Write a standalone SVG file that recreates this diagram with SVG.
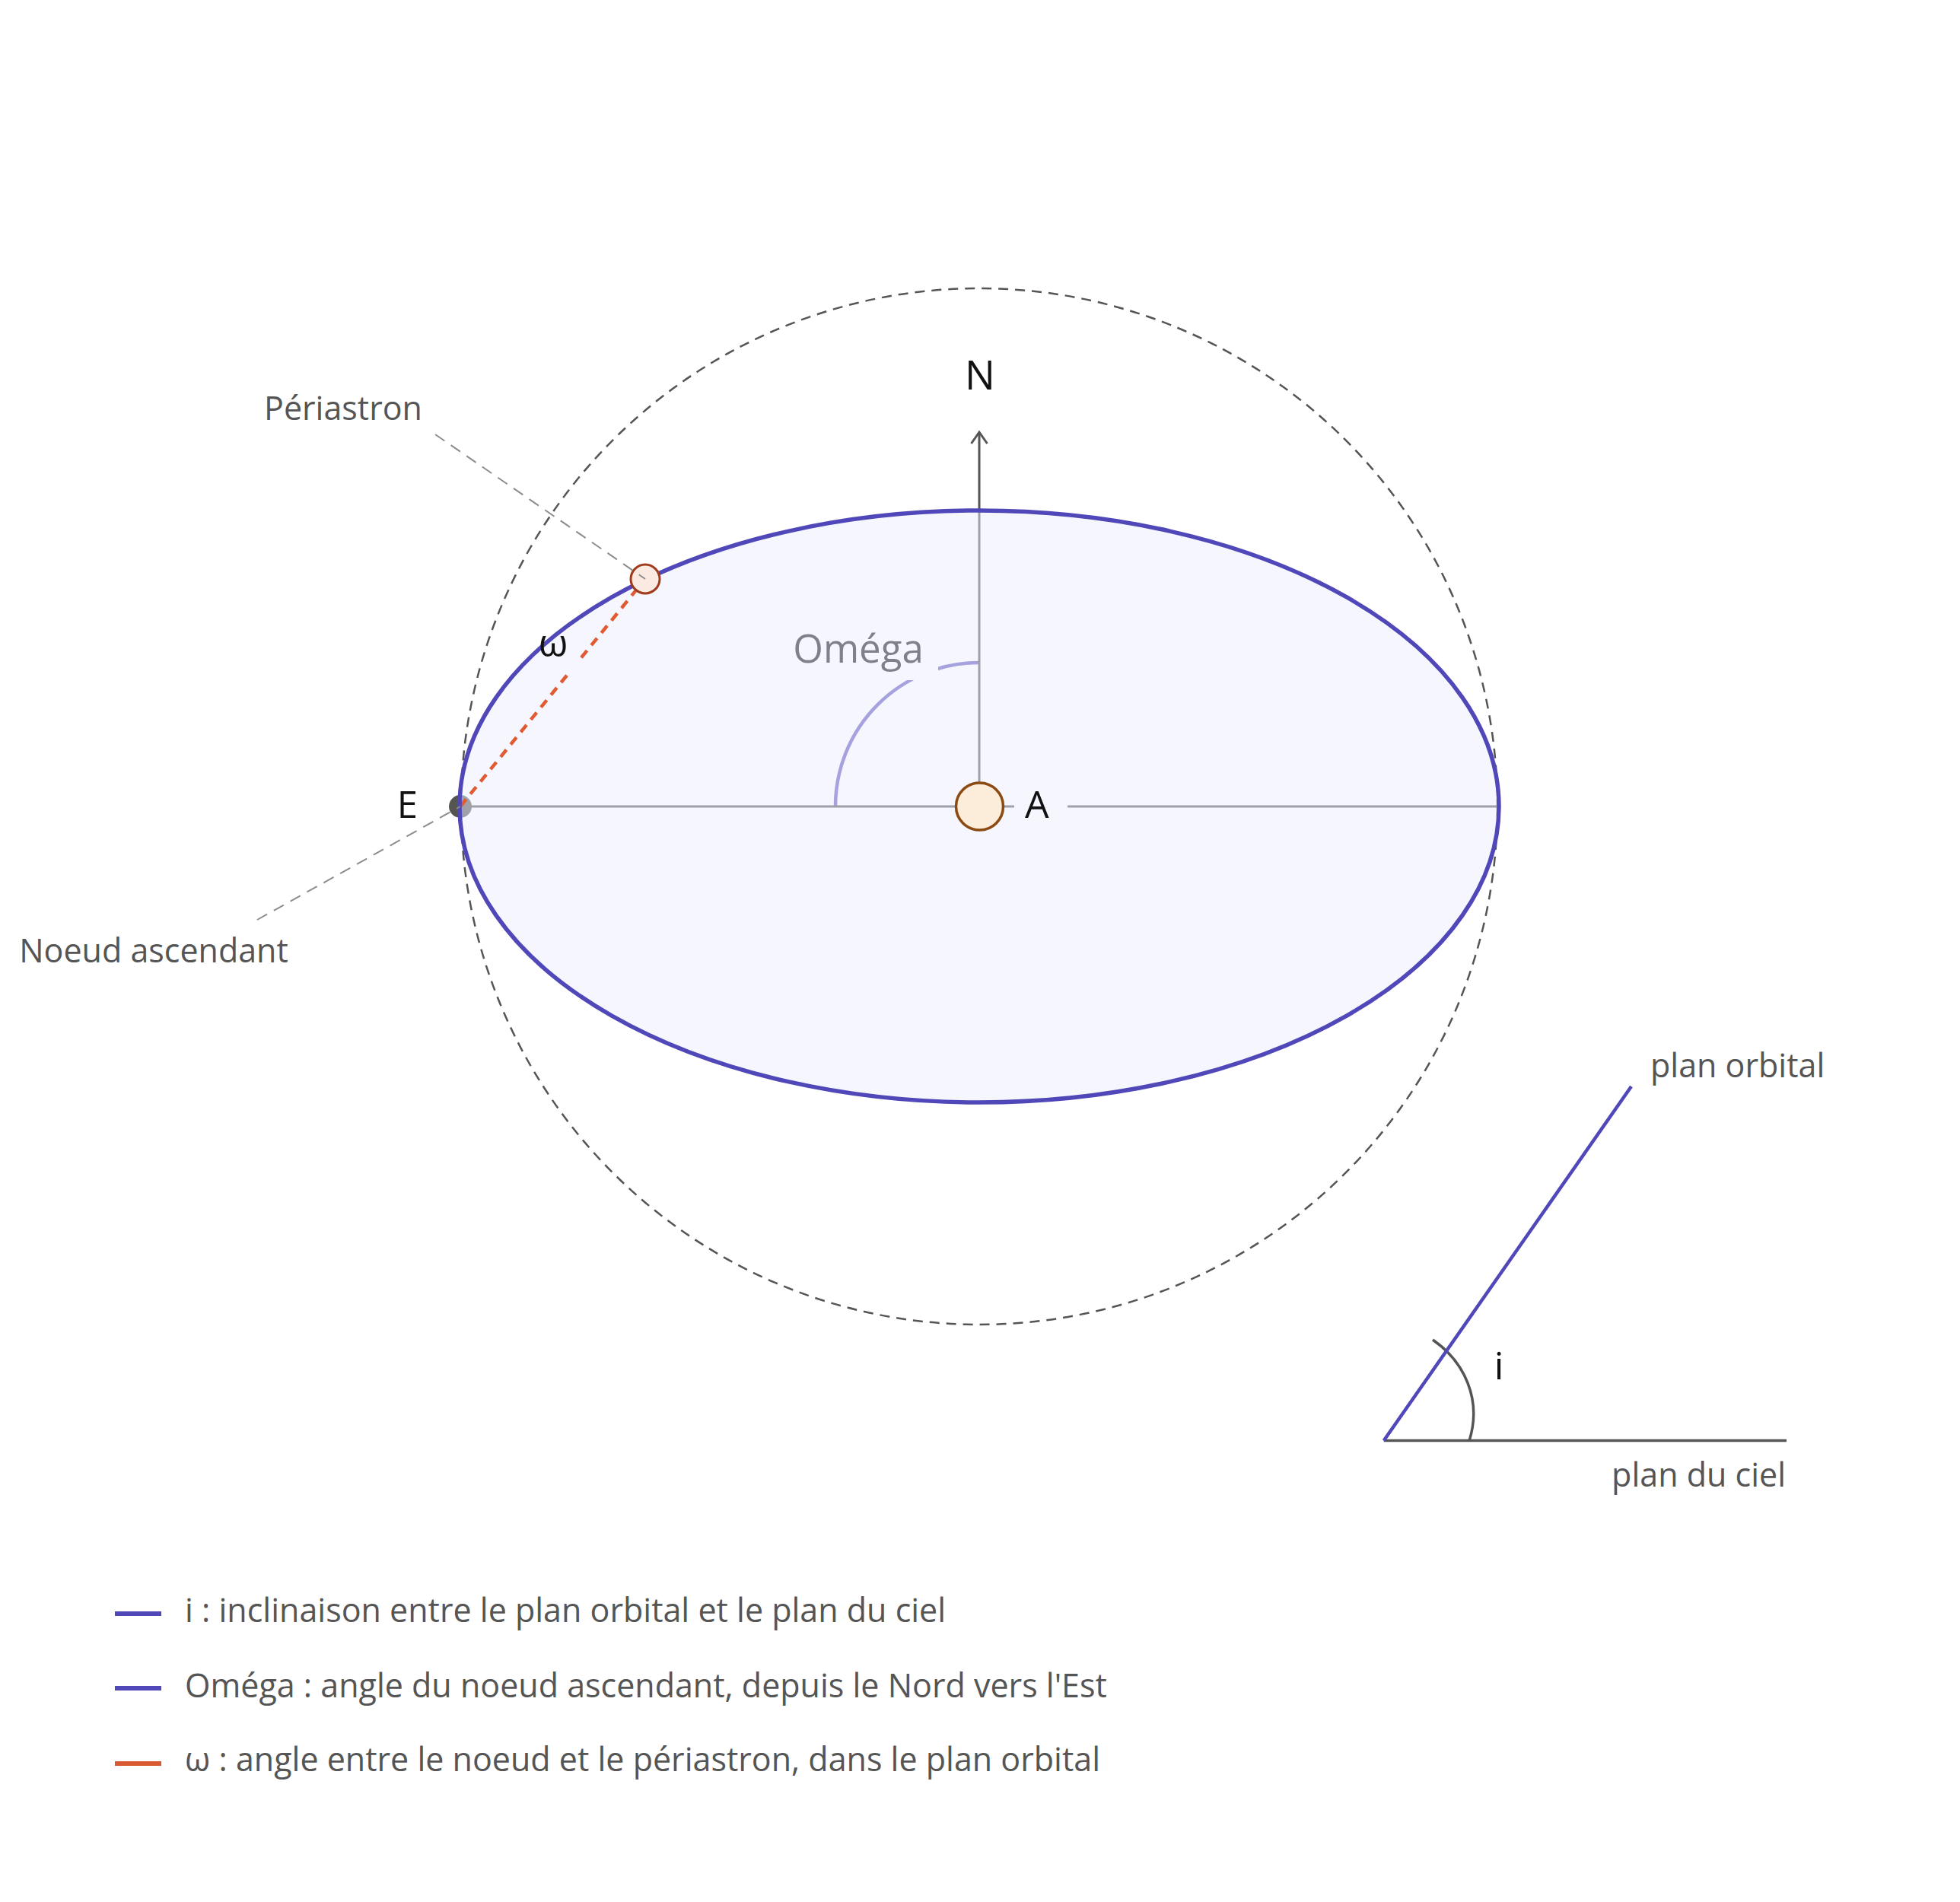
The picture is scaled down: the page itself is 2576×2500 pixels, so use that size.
<svg xmlns="http://www.w3.org/2000/svg" width="2576" height="2500" viewBox="0 0 2576 2500">
  <style>
    .lbl { font-family: "Open Sans", "Noto Sans", "Liberation Sans", sans-serif; fill: #555555; font-size: 43px; }
    .sym { font-family: "Open Sans", "Noto Sans", "Liberation Sans", sans-serif; fill: #111111; }
    .axis { stroke: #a0a0a8; stroke-width: 3; fill: none; }
    .leader { stroke: #8c8c8c; stroke-width: 2; stroke-dasharray: 15 10; fill: none; }
    .blue { stroke: #5048b8; fill: none; }
  </style>
  <defs>
    <marker id="arrowN" viewBox="0 0 20 24" refX="17" refY="12" markerWidth="20" markerHeight="24" markerUnits="userSpaceOnUse" orient="auto">
      <path d="M2 1.5 L17 12 L2 22.5" fill="none" stroke="#555555" stroke-width="3"/>
    </marker>
  </defs>
  <rect width="2576" height="2500" fill="#ffffff"/>

  <!-- sky-plane reference circle -->
  <circle id="ciel" cx="1287" cy="1060" r="681" fill="none" stroke="#555555" stroke-width="2.5" stroke-dasharray="13 9"/>

  <!-- node E drawn beneath semi-transparent orbit fill -->
  <g id="node-E">
    <circle cx="605" cy="1060" r="15" fill="#555552"/>
  </g>

  <!-- orbit fill -->
  <ellipse id="orbite-fond" cx="1287" cy="1060" rx="683" ry="389" fill="#ebedfd" fill-opacity="0.5"/>

  <g id="connectors">
    <!-- Omega angle arc -->
    <path d="M1098 1060 A189 189 0 0 1 1287 871" stroke="#a6a2df" stroke-width="4.5" fill="none"/>
    <!-- axes -->
    <line class="axis" x1="605" y1="1060" x2="1333" y2="1060"/>
    <line class="axis" x1="1403" y1="1060" x2="1970" y2="1060"/>
    <line class="axis" x1="1287" y1="1060" x2="1287" y2="671"/>
    <!-- north arrow -->
    <line x1="1287" y1="671" x2="1287" y2="568" stroke="#555555" stroke-width="3" marker-end="url(#arrowN)"/>
    <!-- omega (argument of periastron) -->
    <line x1="605" y1="1060" x2="848" y2="761" stroke="#e05a32" stroke-width="4.5" stroke-dasharray="12 9"/>
    <!-- label backgrounds -->
    <rect x="1024" y="818" width="209" height="76" fill="#f5f6fe"/>
    <rect x="740" y="866" width="28" height="17" fill="#f5f6fe"/>
  </g>

  <!-- orbit outline -->
  <ellipse id="orbite" class="blue" cx="1287" cy="1060" rx="683" ry="389" stroke-width="5.5"/>

  <g id="node-A">
    <circle cx="1287.5" cy="1060" r="31" fill="#fbedd9" stroke="#8b4a12" stroke-width="3.5"/>
    <text class="sym" x="1347" y="1075" font-size="50">A</text>
  </g>

  <g id="node-periastre">
    <circle cx="848" cy="761" r="19" fill="#faeae2" stroke="#a03c1c" stroke-width="3"/>
  </g>

  <g id="leaders">
    <line class="leader" x1="572" y1="571" x2="848" y2="761"/>
    <line class="leader" x1="338" y1="1209" x2="605" y2="1060"/>
  </g>

  <g id="labels">
    <text class="sym" x="1288" y="512" font-size="53" text-anchor="middle">N</text>
    <text class="sym" x="549" y="1075" font-size="49" text-anchor="end">E</text>
    <text x="1128" y="871" font-size="51" text-anchor="middle" font-family="Open Sans, Noto Sans, Liberation Sans, sans-serif" fill="#808088">Oméga</text>
    <text class="sym" x="727" y="863" font-size="50" text-anchor="middle">ω</text>
    <text class="lbl" x="451" y="552" font-size="44" text-anchor="middle">Périastron</text>
    <text class="lbl" x="202" y="1265" font-size="44" text-anchor="middle">Noeud ascendant</text>
  </g>

  <g id="inclinaison">
    <line x1="1818.7" y1="1893.5" x2="2348" y2="1893.5" stroke="#555555" stroke-width="3.5"/>
    <path d="M1883 1761 C1925 1790 1948 1840 1931 1894" stroke="#555555" stroke-width="3.5" fill="none"/>
    <line class="blue" x1="1818.7" y1="1893.5" x2="2144" y2="1428" stroke-width="4.5"/>
    <text class="sym" x="1970" y="1813" font-size="50" text-anchor="middle">i</text>
    <text class="lbl" x="2169" y="1416" font-size="44">plan orbital</text>
    <text class="lbl" x="2347" y="1954" font-size="44" text-anchor="end">plan du ciel</text>
  </g>

  <g id="legende">
    <line x1="151" y1="2121" x2="212" y2="2121" stroke="#5048b8" stroke-width="6"/>
    <text class="lbl" x="243" y="2132">i : inclinaison entre le plan orbital et le plan du ciel</text>
    <line x1="151" y1="2219" x2="212" y2="2219" stroke="#5048b8" stroke-width="6"/>
    <text class="lbl" x="243" y="2231">Oméga : angle du noeud ascendant, depuis le Nord vers l'Est</text>
    <line x1="151" y1="2318" x2="212" y2="2318" stroke="#d85a32" stroke-width="6"/>
    <text class="lbl" x="243" y="2328">ω : angle entre le noeud et le périastron, dans le plan orbital</text>
  </g>
</svg>
